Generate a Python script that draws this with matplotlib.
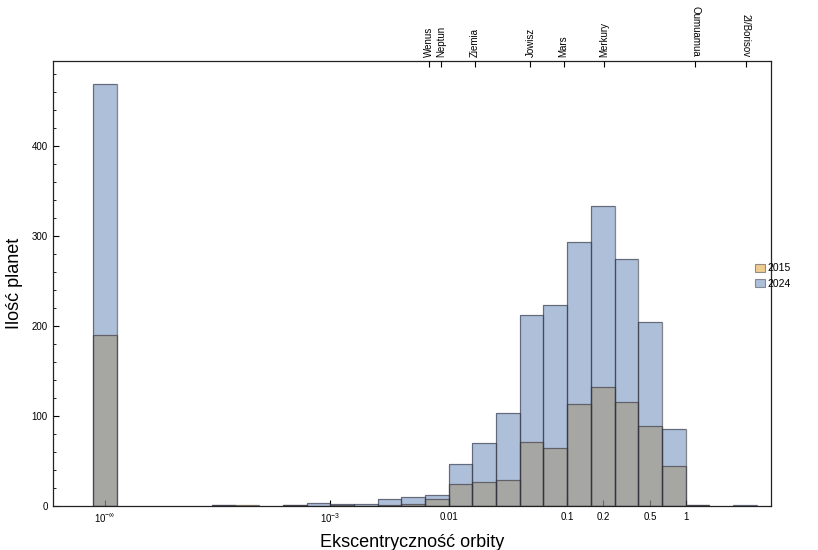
import numpy as np
import matplotlib.pyplot as plt
from matplotlib.patches import Patch

plt.rcParams['font.family'] = ['Liberation Sans', 'DejaVu Sans']
plt.rcParams['mathtext.fontset'] = 'custom'
plt.rcParams['mathtext.rm'] = 'Liberation Sans'
plt.rcParams['mathtext.it'] = 'Liberation Sans:italic'

# histogram bins: left edge in log10(e), width 0.2 decade
bin_left = [-4.0, -3.8, -3.6, -3.4, -3.2, -3.0, -2.8, -2.6, -2.4, -2.2,
            -2.0, -1.8, -1.6, -1.4, -1.2, -1.0, -0.8, -0.6, -0.4, -0.2,
            0.0, 0.2, 0.4]
counts_2015 = [1, 1, 0, 1, 0, 1, 0, 1, 2, 8,
               24, 27, 29, 71, 64, 113, 132, 115, 89, 44,
               1, 0, 0]
counts_2024 = [1, 0, 0, 1, 3, 2, 2, 8, 10, 12,
               47, 70, 103, 212, 223, 293, 333, 274, 204, 86,
               1, 0, 1]
# e = 0 exactly, drawn as "10^-inf" bin
zero_left = -5.0
zero_2015 = 190
zero_2024 = 468
bin_w = 0.2

# planets on the top axis
planet_names = ['Wenus', 'Neptun', 'Ziemia', 'Jowisz', 'Mars', 'Merkury', 'Oumuamua', '2I/Borisov']
planet_ecc = [0.0068, 0.0086, 0.0167, 0.0489, 0.0934, 0.2056, 1.2, 3.2]

c_2015 = (0.880722, 0.611041, 0.142051)
c_2024 = (0.368417, 0.506779, 0.709798)
edge = (0.2, 0.2, 0.25, 0.6)

fig = plt.figure(figsize=(8.18, 5.5), dpi=100)
ax = fig.add_axes([0.0652, 0.08, 0.8773, 0.809])
ax.set_xscale('log')


def draw(lefts, counts, color):
    lefts = np.array(lefts)
    counts = np.array(counts)
    m = counts > 0
    x0 = 10 ** lefts[m]
    x1 = 10 ** (lefts[m] + bin_w)
    ax.bar(x0, counts[m], width=x1 - x0, align='edge', color=color, alpha=0.5,
           edgecolor='none', zorder=2)
    ax.bar(x0, counts[m], width=x1 - x0, align='edge', fill=False,
           edgecolor=edge, linewidth=0.9, zorder=3)


draw([zero_left] + bin_left, [zero_2015] + counts_2015, c_2015)
draw([zero_left] + bin_left, [zero_2024] + counts_2024, c_2024)

ax.set_xlim(10 ** -5.337, 10 ** 0.72)
ax.set_ylim(0, 494)

ax.set_xticks([10 ** (zero_left + bin_w / 2), 1e-3, 0.01, 0.1, 0.2, 0.5, 1])
ax.set_xticklabels([r'$10^{-\infty}$', r'$10^{-3}$', '0.01', '0.1', '0.2', '0.5', '1'])
ax.xaxis.set_minor_locator(plt.NullLocator())
ax.set_yticks([0, 100, 200, 300, 400])
ax.set_yticks(np.arange(0, 494, 20), minor=True)
ax.tick_params(axis='both', which='major', direction='in', length=4, width=0.8,
               labelsize=7, pad=4)
ax.tick_params(axis='y', which='minor', direction='in', length=2, width=0.6)

for s in ax.spines.values():
    s.set_linewidth(0.9)
    s.set_color('#222222')

ax.set_xlabel('Ekscentryczność orbity', fontsize=13, labelpad=6)
ax.set_ylabel('Ilość planet', fontsize=13, labelpad=6)

ax2 = ax.twiny()
ax2.set_xscale('log')
ax2.set_xlim(ax.get_xlim())
ax2.set_xticks(planet_ecc)
ax2.set_xticklabels(planet_names)
ax2.xaxis.set_minor_locator(plt.NullLocator())
ax2.tick_params(axis='x', direction='in', length=4, width=0.8, labelsize=7, pad=3)
for lab, e in zip(ax2.get_xticklabels(), planet_ecc):
    lab.set_rotation(-90 if e > 1 else 90)
    lab.set_va('bottom')
    lab.set_ha('center')
for s in ax2.spines.values():
    s.set_visible(False)

handles = [Patch(facecolor=c_2015, alpha=0.5, edgecolor=edge, linewidth=0.8, label='2015'),
           Patch(facecolor=c_2024, alpha=0.5, edgecolor=edge, linewidth=0.8, label='2024')]
fig.legend(handles=handles, loc='center left', bbox_to_anchor=(0.912, 0.498),
           frameon=False, fontsize=7.5, handlelength=0.9, handleheight=0.9,
           handletextpad=0.3, labelspacing=0.5)

fig.savefig('out.png', dpi=100)
